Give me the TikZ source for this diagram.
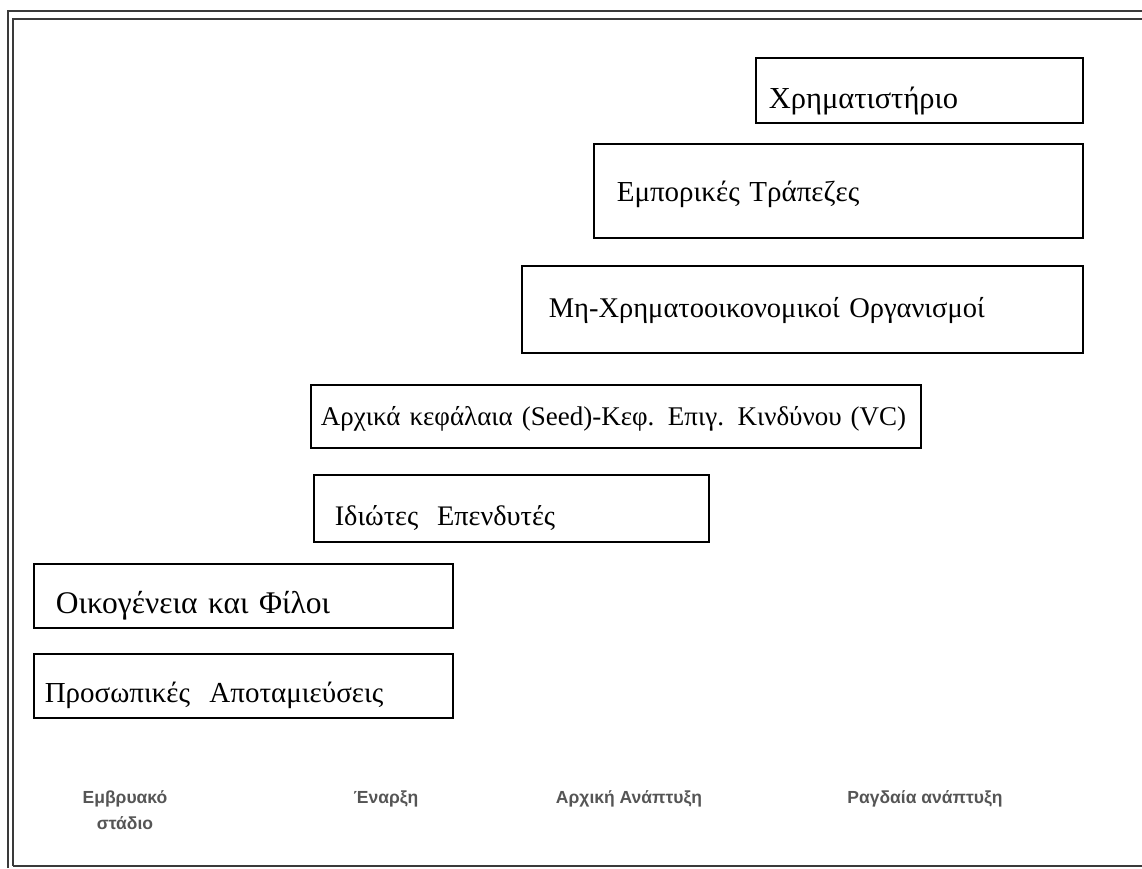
\documentclass[tikz,border=0pt]{standalone}
\usepackage{fontspec}
\setmainfont{Liberation Serif}
\newfontfamily\labelfont{Liberation Sans}
\usetikzlibrary{positioning}

\definecolor{framegray}{HTML}{3A3A3A}
\definecolor{stagegray}{HTML}{555555}

% text sitting a given amount below the middle line of its box
\newcommand{\boxtext}[2]{\raisebox{-#1}[0pt][0pt]{#2}}

\tikzset{
    fundbox/.style={draw=black, line width=1.6pt, anchor=north west, align=left,
        font=\fontsize{29}{32}\selectfont, inner ysep=0pt},
    stagelabel/.style={text=stagegray, font=\labelfont\bfseries\fontsize{17.5}{26}\selectfont,
        align=center, anchor=north}
}

\begin{document}
\begin{tikzpicture}[x=1pt, y=-1pt]
        \useasboundingbox (0,0) rectangle (1142,868);
        % frame round the picture
        \draw[framegray, line width=1.8pt] (8,868) -- (8,11) -- (1142,11);
        \draw[framegray, line width=1.8pt] (13,866) -- (13,19) -- (1142,19);
        \draw[framegray, line width=1.8pt] (13,866) -- (1142,866);

        % sources of money, from the latest stage down
        \node[fundbox, inner xsep=13pt, text width=301pt, minimum height=65pt, font=\fontsize{30.5}{32}\selectfont] (stock) at (755,57) {\boxtext{18pt}{Χρηματιστήριο}};
        \node[fundbox, inner xsep=23pt, text width=443pt, minimum height=94pt] (banks) at (593,143) {\boxtext{11pt}{Εμπορικές Τράπεζες}};
        \node[fundbox, inner xsep=27pt, text width=507pt, minimum height=87pt, font=\fontsize{28.5}{32}\selectfont] (nonfin) at (521,265) {\boxtext{8pt}{Μη-Χρηματοοικονομικοί Οργανισμοί}};
        \node[fundbox, inner xsep=10pt, text width=590pt, minimum height=63pt, font=\fontsize{27}{32}\selectfont] (seed) at (310,384) {\boxtext{9pt}{Αρχικά κεφάλαια (Seed)-Κεφ. Επιγ. Κινδύνου (VC)}};
        \node[fundbox, inner xsep=21pt, text width=353pt, minimum height=67pt, font=\fontsize{28.3}{32}\selectfont] (angels) at (313,474) {\boxtext{17pt}{Ιδιώτες\ \ Επενδυτές}};
        \node[fundbox, inner xsep=22pt, text width=375pt, minimum height=64pt, font=\fontsize{31.5}{32}\selectfont] (family) at (33,563) {\boxtext{18pt}{Οικογένεια και Φίλοι}};
        \node[fundbox, inner xsep=11pt, text width=397pt, minimum height=64pt] (savings) at (33,653) {\boxtext{17pt}{Προσωπικές\ \ Αποταμιεύσεις}};

        % stages of the firm
        \node[stagelabel] (embryo) at (125,787) {Εμβρυακό\\στάδιο};
        \node[stagelabel] (start) at (386,787) {Έναρξη};
        \node[stagelabel] (early) at (629,787) {Αρχική Ανάπτυξη};
        \node[stagelabel] (rapid) at (925,787) {Ραγδαία ανάπτυξη};
    \end{tikzpicture}
\end{document}
